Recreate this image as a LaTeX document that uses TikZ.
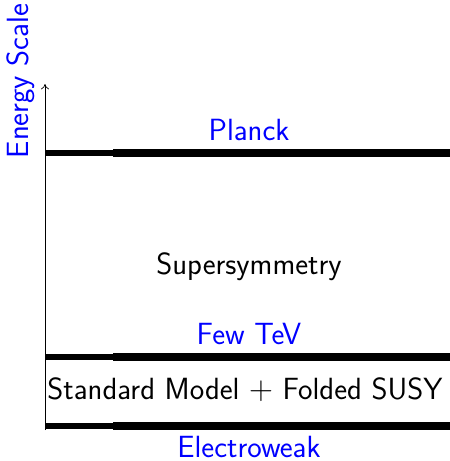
\documentclass[tikz,border=0pt]{standalone}
\usetikzlibrary{arrows.meta}
\begin{document}
\begin{tikzpicture}[x=0.75pt,y=-0.75pt,
  lbl/.style={font=\sffamily\fontsize{23}{27}\selectfont, inner sep=0pt},
  blbl/.style={lbl, text=blue},
  thickA/.style={line width=4.5pt},
  thickB/.style={line width=5.5pt}]
\useasboundingbox (0,0) rectangle (450,461);
\coordinate (ax0) at (45,430);
\coordinate (ax1) at (45,84);
\draw[-{To[length=4pt,width=6pt]}, line width=0.5pt] (ax0) -- (ax1);
\foreach \y/\n in {153/p,357/t,426/e}{
  \coordinate (\n a) at (45,\y);
  \coordinate (\n b) at (113,\y);
  \coordinate (\n c) at (450,\y);
  \draw[thickA] (\n a) -- (\n b);
  \draw[thickB] (\n b) -- (\n c);
}
\node[blbl, rotate=90] (es) at (21,81) {Energy Scale};
\node[blbl] (planck) at (249,130) {Planck};
\node[lbl] (susy) at (249,267) {Supersymmetry};
\node[blbl] (tev) at (249,334) {Few TeV};
\node[lbl] (sm) at (245,390) {Standard Model $+$ Folded SUSY};
\node[blbl] (ew) at (249,447) {Electroweak};
\end{tikzpicture}
\end{document}
